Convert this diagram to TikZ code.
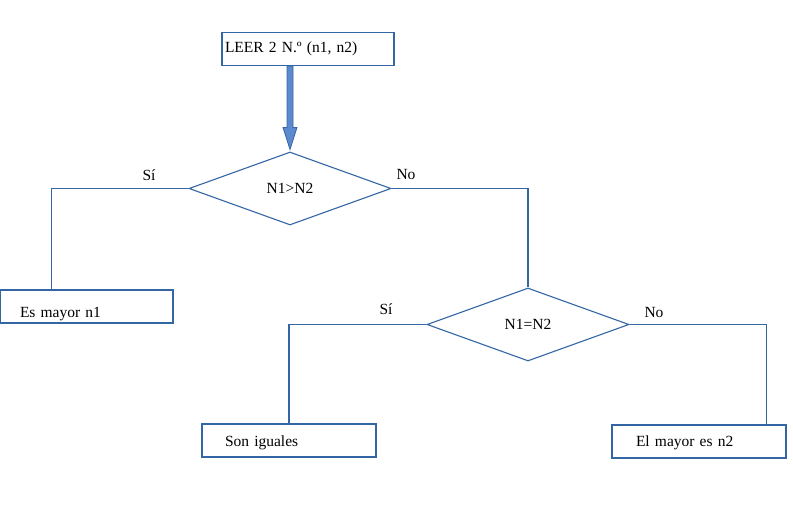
\documentclass[tikz,border=0pt]{standalone}
\usepackage{fontspec}
\setmainfont{Liberation Serif}
\usetikzlibrary{shapes.geometric,calc}
\definecolor{azul}{RGB}{52,101,164}
\definecolor{azulclaro}{RGB}{92,138,206}

\begin{document}
\begin{tikzpicture}[%
    x=1pt, y=-1pt,
    font=\fontsize{15.5}{18}\selectfont,
    caja/.style={rectangle, draw=azul, line width=1.1pt, inner ysep=0pt,
      minimum height=33pt, align=left},
    decision/.style={diamond, draw=azul, line width=1.1pt, inner sep=0pt,
      minimum width=202pt, minimum height=73pt},
    linea/.style={draw=azul, line width=1.1pt},
    flecha/.style={draw=azul, fill=azulclaro, line width=0.8pt},
    etiqueta/.style={inner sep=0pt},
  ]
    \useasboundingbox (0,0) rectangle (793,506);

    \node[caja, inner xsep=3pt, text width=166pt, text height=19pt,
      text depth=13pt] (leer) at (308,49) {LEER 2 N.º (n1, n2)};
    \node[decision] (d1) at (290,188.5) {N1>N2};
    \node[caja, inner xsep=20pt, text width=133pt, text height=27pt,
      text depth=6pt] (mayor1) at (86.5,306.5) {Es mayor n1};
    \node[decision] (d2) at (528,324.5) {N1=N2};
    \node[caja, inner xsep=23pt, text width=128pt, text height=22pt,
      text depth=11pt] (iguales) at (289,440.5) {Son iguales};
    \node[caja, inner xsep=24pt, text width=126pt, text height=21pt,
      text depth=12pt] (mayor2) at (699,441.5) {El mayor es n2};

    \node[etiqueta] (si1) at (149,175) {Sí};
    \node[etiqueta] (no1) at (406,174) {No};
    \node[etiqueta] (si2) at (386,309) {Sí};
    \node[etiqueta] (no2) at (654,312) {No};

    % flecha gruesa
    \filldraw[flecha]
      ($(leer.south -| d1.north)+(0,0)$) ++(0,0) coordinate (base)
      ($(base)+(-3,0)$) -- ($(d1.north)+(-3,-24)$)
      -- ($(d1.north)+(-7,-24)$) -- ($(d1.north)+(0,-2)$)
      -- ($(d1.north)+(7,-24)$) -- ($(d1.north)+(3,-24)$)
      -- ($(base)+(3,0)$) -- cycle;

    \path[linea]
    (d1.west) -| ([xshift=52pt]mayor1.north west)
    (d1.east) -| (d2.north)
    (d2.west) -| (iguales.north)
    (d2.east) -| ([xshift=-20pt]mayor2.north east)
    ;
  \end{tikzpicture}
\end{document}
